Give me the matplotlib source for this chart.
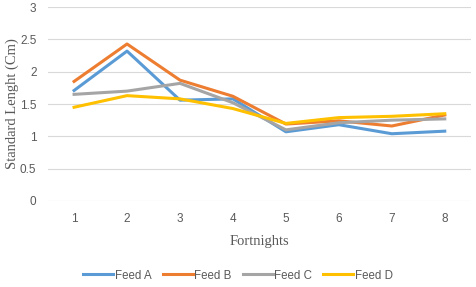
import matplotlib.pyplot as plt
import numpy as np

# fortnights and standard length per feed
fortnights = [1, 2, 3, 4, 5, 6, 7, 8]
feed_a = [1.71, 2.32, 1.56, 1.58, 1.07, 1.18, 1.04, 1.08]
feed_b = [1.85, 2.43, 1.87, 1.62, 1.19, 1.24, 1.16, 1.33]
feed_c = [1.65, 1.70, 1.82, 1.52, 1.10, 1.21, 1.25, 1.27]
feed_d = [1.45, 1.63, 1.58, 1.43, 1.20, 1.29, 1.31, 1.35]
names = ["Feed A", "Feed B", "Feed C", "Feed D"]
colors = ["#5B9BD5", "#ED7D31", "#A5A5A5", "#FFC000"]

fig, ax = plt.subplots(figsize=(4.76, 2.87), dpi=100)
fig.subplots_adjust(left=0.1, right=0.99, top=0.975, bottom=0.3)

for vals, name, c in zip([feed_a, feed_b, feed_c, feed_d], names, colors):
    ax.plot(fortnights, vals, color=c, lw=2.2, label=name)

ax.set_xlim(0.5, 8.5)
ax.set_ylim(0, 3)
ax.set_yticks(np.arange(0, 3.01, 0.5))
ax.set_yticklabels(["0", "0.5", "1", "1.5", "2", "2.5", "3"])
ax.set_xticks(fortnights)
ax.grid(axis="y", color="#d9d9d9", lw=0.8)
ax.set_axisbelow(True)
for s in ax.spines.values():
    s.set_visible(False)
ax.tick_params(length=0, labelsize=8.5, labelcolor="#595959")
ax.tick_params(axis="x", pad=9)
ax.tick_params(axis="y", pad=8)
for lab in ax.get_xticklabels() + ax.get_yticklabels():
    lab.set_family("Liberation Sans")

font1 = {'family': 'Liberation Serif', 'color': '#595959', 'size': 10.5}
ax.set_xlabel("Fortnights", fontdict=font1, labelpad=7)
ax.set_ylabel("Standard Lenght (Cm)", fontdict=font1, labelpad=1)

handles, labels = ax.get_legend_handles_labels()
leg = fig.legend(handles, labels, loc="center", bbox_to_anchor=(0.5, 0.04), ncol=4,
                 frameon=False, prop={'family': 'Liberation Sans', 'size': 8.3},
                 handlelength=2.6, handletextpad=0.1, columnspacing=1.0)
for t in leg.get_texts():
    t.set_color("#595959")

fig.savefig("out.png", dpi=100)
